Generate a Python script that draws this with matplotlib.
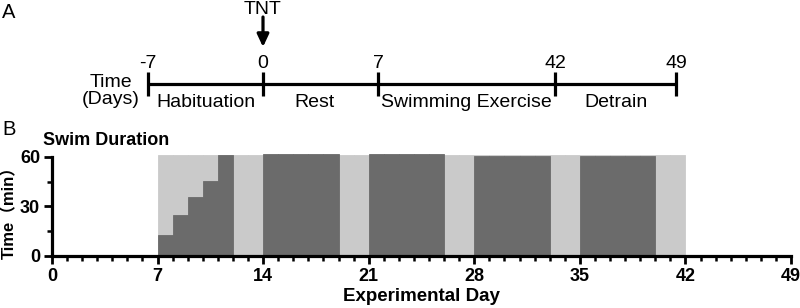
import matplotlib
matplotlib.use("Agg")
import matplotlib.pyplot as plt
from matplotlib.ticker import MultipleLocator, FixedLocator

# ---------------- data ----------------
# Panel A: study timeline
milestone_days = [-7, 0, 7, 42, 49]
phase_names = ["Habituation", "Rest", "Swimming Exercise", "Detrain"]
event_name = "TNT"
event_day = 0

# Panel B: daily swim duration (min)
swim_days = list(range(7, 42))
swim_minutes = ([12.5, 25, 36, 45.5, 61, 0, 0]
                + [61.5] * 5 + [0, 0]
                + [61.5] * 5 + [0, 0]
                + [60.6] * 5 + [0, 0]
                + [60.6] * 5 + [0, 0])
session_capacity = [61] * len(swim_days)

# ---------------- style ----------------
FONT = ["Liberation Sans", "Noto Sans CJK SC", "DejaVu Sans"]
plt.rcParams["font.family"] = FONT
DARK = "#6b6b6b"
LIGHT = "#cacaca"

W, H = 800, 308
fig = plt.figure(figsize=(W / 100, H / 100), dpi=100)

# ---------------- Panel A (pixel-coordinate overlay) ----------------
axA = fig.add_axes([0, 0, 1, 1])
axA.set_xlim(0, W)
axA.set_ylim(H, 0)
axA.axis("off")
axA.patch.set_alpha(0)

# timeline is drawn schematically (not to scale)
milestone_px = [148, 263, 378, 555, 676]
line_y = 84
FS_A = 14
axA.plot([milestone_px[0], milestone_px[-1]], [line_y, line_y], color="black",
         lw=2.3, solid_capstyle="butt")
for d, xp in zip(milestone_days, milestone_px):
    axA.plot([xp, xp], [line_y - 12, line_y + 12], color="black", lw=2.3,
             solid_capstyle="butt")
    axA.text(xp, 68, str(d), ha="center", va="baseline", fontsize=FS_A)
for i, name in enumerate(phase_names):
    cx = (milestone_px[i] + milestone_px[i + 1]) / 2
    if name == "Rest":
        cx -= 6
    axA.text(cx, 107, name, ha="center", va="baseline", fontsize=FS_A)
axA.text(111, 87, "Time", ha="center", va="baseline", fontsize=FS_A)
axA.text(111, 104, "(Days)", ha="center", va="baseline", fontsize=FS_A)

ex = milestone_px[milestone_days.index(event_day)]
axA.text(ex, 13.5, event_name, ha="center", va="baseline", fontsize=FS_A)
axA.annotate("", xy=(ex, 47), xytext=(ex, 17),
             arrowprops=dict(arrowstyle="-|>,head_length=0.75,head_width=0.35",
                             color="black", lw=2.3, shrinkA=0, shrinkB=0))
axA.text(2, 18, "A", ha="left", va="baseline", fontsize=14.5)
axA.text(2, 135, "B", ha="left", va="baseline", fontsize=14.5)

# ---------------- Panel B ----------------
left, right = 52 / W, 791 / W
bottom = 1 - 256 / H
top = 1 - 152 / H
axB = fig.add_axes([left, bottom, right - left, top - bottom])
axB.patch.set_alpha(0)

axB.bar(swim_days, session_capacity, width=1.0, align="edge", bottom=0,
        color=LIGHT, edgecolor=LIGHT, linewidth=0.6, zorder=1)
axB.bar(swim_days, swim_minutes, width=1.0, align="edge",
        color=DARK, edgecolor=DARK, linewidth=0.6, zorder=2)

axB.set_xlim(0, 49)
axB.set_ylim(0, 63)
axB.spines["top"].set_visible(False)
axB.spines["right"].set_visible(False)
for s in ("left", "bottom"):
    axB.spines[s].set_linewidth(2.3)
    axB.spines[s].set_zorder(5)
axB.spines["left"].set_bounds(0, 60)

axB.xaxis.set_major_locator(MultipleLocator(7))
axB.xaxis.set_minor_locator(MultipleLocator(1))
axB.yaxis.set_major_locator(FixedLocator([0, 30, 60]))
axB.yaxis.set_minor_locator(FixedLocator([15, 45]))
axB.tick_params(which="major", direction="out", length=6, width=2, pad=2.5)
axB.tick_params(which="minor", direction="out", length=3.5, width=1.8)
for lab in axB.get_xticklabels() + axB.get_yticklabels():
    lab.set_fontweight("bold")
    lab.set_fontsize(13)

axB.set_xlabel("Experimental Day", fontsize=13.5, fontweight="bold", labelpad=2)
axB.set_ylabel("Time（min）", fontsize=12, fontweight="bold", family=FONT)
axB.yaxis.set_label_coords(-0.047, 0.46)
axB.text(43 / W, 1 - 145 / H, "Swim Duration", transform=fig.transFigure,
         ha="left", va="baseline", fontsize=13, fontweight="bold")

fig.savefig("out.png", dpi=100)
